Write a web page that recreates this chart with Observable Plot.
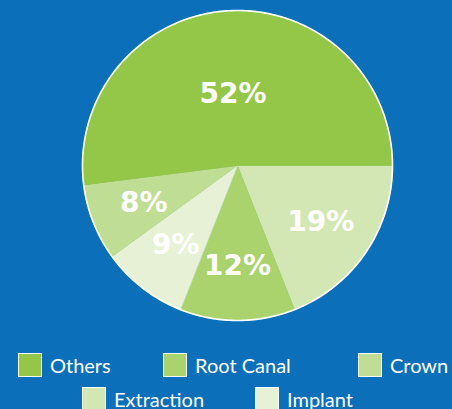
<!DOCTYPE html>
<html>
<head>
<meta charset="utf-8">
<script src="https://cdn.jsdelivr.net/npm/d3@7"></script>
<script src="https://cdn.jsdelivr.net/npm/@observablehq/plot@0.6"></script>
<style>
  html, body { margin: 0; padding: 0; background: #0b6fba; width: 452px; height: 409px; overflow: hidden; }
  #legend { position: relative; width: 452px; height: 69px; font-family: Lato, sans-serif; font-size: 20px; color: #fff; }
  .item { position: absolute; display: flex; align-items: flex-start; white-space: nowrap; }
  .sw { width: 22px; height: 22px; border: 1px solid #fff; box-sizing: content-box; }
  .lb { margin-left: 8px; line-height: 24px; }
</style>
</head>
<body>
<div id="chart"></div>
<div id="legend"></div>
<script>
// Slices in drawing order, clockwise from 3 o'clock
const categories = ["Extraction", "Root Canal", "Implant", "Crown", "Others"];
const values = [19, 12, 9, 8, 52];
// Legend order and colours
const legendOrder = ["Others", "Root Canal", "Crown", "Extraction", "Implant"];
const legendColors = ["#94c748", "#aad36e", "#c0dd94", "#d3e7b5", "#e7f1d6"];

const total = d3.sum(values);
const TAU = Math.PI * 2;
const slicePts = [];
const labels = [];
let acc = 0;
categories.forEach((cat, i) => {
  const a0 = acc / total * TAU;
  const a1 = (acc + values[i]) / total * TAU;
  acc += values[i];
  slicePts.push({cat, x: 0, y: 0});
  const n = Math.max(2, Math.ceil((a1 - a0) / 0.01));
  for (let k = 0; k <= n; k++) {
    const a = a0 + (a1 - a0) * k / n;
    slicePts.push({cat, x: Math.cos(a), y: -Math.sin(a)});
  }
  slicePts.push({cat, x: 0, y: 0});
  const mid = (a0 + a1) / 2;
  const rr = values[i] / total > 0.5 ? 0.46 : 0.65;
  labels.push({cat, text: values[i] + "%", x: rr * Math.cos(mid), y: -rr * Math.sin(mid)});
});
const circle = d3.range(0, 361).map(d => ({x: Math.cos(d * Math.PI / 180), y: Math.sin(d * Math.PI / 180)}));

const chart = Plot.plot({
  width: 452,
  height: 340,
  margin: 0,
  style: {background: "transparent"},
  x: {domain: [-1, 1], range: [82, 392], axis: null},
  y: {domain: [-1, 1], range: [320, 10], axis: null},
  color: {domain: legendOrder, range: legendColors},
  marks: [
    Plot.line(slicePts, {x: "x", y: "y", z: "cat", fill: "cat", stroke: "cat", strokeWidth: 0.6, curve: "linear"}),
    Plot.line(circle, {x: "x", y: "y", stroke: "#ffffff", strokeWidth: 1.6, curve: "linear"}),
    Plot.text(labels, {x: "x", y: "y", text: "text", fill: "#ffffff", fontSize: 28, fontWeight: "bold", fontFamily: "DejaVu Sans", textAnchor: "middle"})
  ]
});
document.getElementById("chart").appendChild(chart);

// Legend layout (left, top within legend box)
const legendPos = [[18, 13], [163, 13], [358, 13], [82, 47], [255, 47]];
const lg = document.getElementById("legend");
legendOrder.forEach((name, i) => {
  const it = document.createElement("div");
  it.className = "item";
  it.style.left = legendPos[i][0] + "px";
  it.style.top = legendPos[i][1] + "px";
  const sw = document.createElement("div");
  sw.className = "sw";
  sw.style.background = legendColors[i];
  const lb = document.createElement("div");
  lb.className = "lb";
  lb.textContent = name;
  it.appendChild(sw);
  it.appendChild(lb);
  lg.appendChild(it);
});
</script>
</body>
</html>
